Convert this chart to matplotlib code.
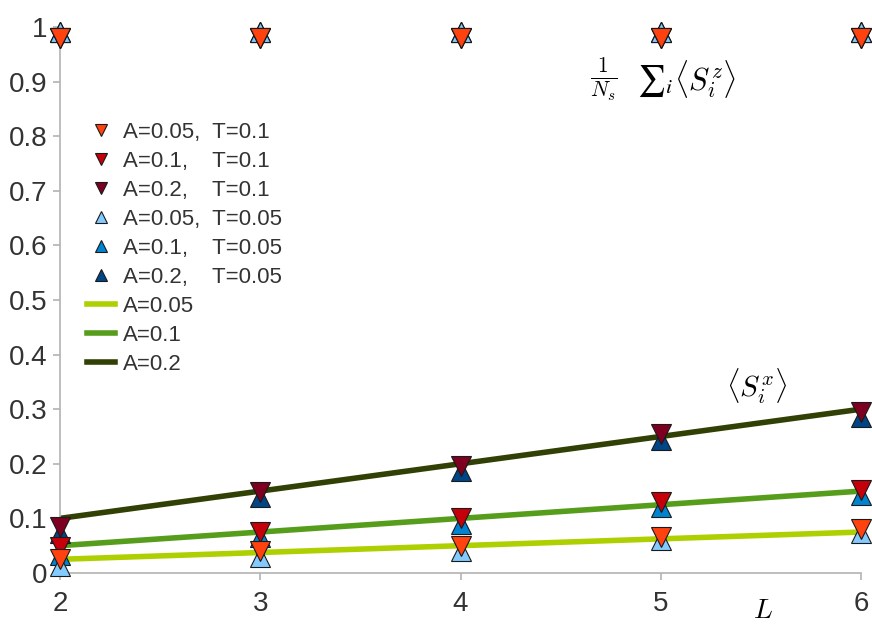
import matplotlib
matplotlib.use('Agg')
import matplotlib.pyplot as plt
import numpy as np

plt.rcParams['font.family'] = ['Liberation Sans', 'DejaVu Sans']
plt.rcParams['mathtext.fontset'] = 'cm'

# system size
L = [2, 3, 4, 5, 6]

# <S^x> at T=0.1 (down triangles)
sx_t01_a005 = [0.025, 0.040, 0.050, 0.066, 0.081]
sx_t01_a01 = [0.048, 0.075, 0.100, 0.130, 0.152]
sx_t01_a02 = [0.085, 0.148, 0.196, 0.255, 0.295]
# <S^x> at T=0.05 (up triangles)
sx_t005_a005 = [0.012, 0.030, 0.040, 0.060, 0.073]
sx_t005_a01 = [0.033, 0.065, 0.090, 0.120, 0.143]
sx_t005_a02 = [0.073, 0.140, 0.187, 0.244, 0.286]
# 1/Ns sum <S^z>
sz_t01 = [0.980, 0.980, 0.980, 0.980, 0.980]
sz_t005 = [0.990, 0.990, 0.990, 0.990, 0.990]
# reference lines
line_a005 = [0.025, 0.0375, 0.050, 0.0625, 0.075]
line_a01 = [0.050, 0.075, 0.100, 0.125, 0.150]
line_a02 = [0.100, 0.150, 0.200, 0.250, 0.300]

fig = plt.figure(figsize=(8.72, 6.26), dpi=100)
ax = fig.add_axes([0.0688, 0.0847, 0.9186, 0.8722])

# lines
l1, = ax.plot(L, line_a005, color='#aecf00', lw=4, label='A=0.05', zorder=2)
l2, = ax.plot(L, line_a01, color='#579d1c', lw=4, label='A=0.1', zorder=2)
l3, = ax.plot(L, line_a02, color='#314004', lw=4, label='A=0.2', zorder=2)

ms = 14
kw = dict(ls='none', ms=ms, mec='#1a1a1a', mew=0.8, clip_on=False)

# up triangles (T=0.05), drawn first
u3, = ax.plot(L, sx_t005_a02, marker='^', color='#004586', label='A=0.2,    T=0.05', zorder=3, **kw)
u2, = ax.plot(L, sx_t005_a01, marker='^', color='#0084d1', label='A=0.1,    T=0.05', zorder=3, **kw)
u1, = ax.plot(L, sx_t005_a005, marker='^', color='#83caff', label='A=0.05,  T=0.05', zorder=3, **kw)
ax.plot(L, sz_t005, marker='^', color='#004586', zorder=3, **kw)
ax.plot(L, sz_t005, marker='^', color='#0084d1', zorder=3, **kw)
ax.plot(L, sz_t005, marker='^', color='#83caff', zorder=3, **kw)

# down triangles (T=0.1)
d3, = ax.plot(L, sx_t01_a02, marker='v', color='#7e0021', label='A=0.2,    T=0.1', zorder=4, **kw)
d2, = ax.plot(L, sx_t01_a01, marker='v', color='#c5000b', label='A=0.1,    T=0.1', zorder=4, **kw)
d1, = ax.plot(L, sx_t01_a005, marker='v', color='#ff420e', label='A=0.05,  T=0.1', zorder=4, **kw)
ax.plot(L, sz_t01, marker='v', color='#7e0021', zorder=4, **kw)
ax.plot(L, sz_t01, marker='v', color='#c5000b', zorder=4, **kw)
ax.plot(L, sz_t01, marker='v', color='#ff420e', zorder=4, **kw)

ax.set_xlim(2, 6)
ax.set_ylim(0, 1)
ax.set_xticks(L)
ax.set_yticks(np.arange(0, 1.01, 0.1))
ax.set_yticklabels(['0', '0.1', '0.2', '0.3', '0.4', '0.5', '0.6', '0.7', '0.8', '0.9', '1'])

for s in ['top', 'right']:
    ax.spines[s].set_visible(False)
for s in ['left', 'bottom']:
    ax.spines[s].set_color('#b3b3b3')
    ax.spines[s].set_linewidth(1.2)
ax.tick_params(colors='#b3b3b3', labelcolor='#333333', labelsize=20, length=5, width=1.2)
ax.tick_params(axis='y', pad=4)
ax.tick_params(axis='x', pad=8)

leg = ax.legend(handles=[d1, d2, d3, u1, u2, u3, l1, l2, l3],
                loc='upper left', bbox_to_anchor=(0.022, 0.842), frameon=False,
                fontsize=16, handlelength=1.3, handletextpad=0.35,
                labelspacing=0.36, borderaxespad=0, markerscale=0.62)
for t in leg.get_texts():
    t.set_color('#333333')

# 1/Ns sum_i <S_i^z>, built from three pieces so the sum stays in text size
ax.text(0.679, 0.905, r'$\frac{1}{N_s}$', transform=ax.transAxes,
        fontsize=22, ha='center', va='center')
ax.text(0.72, 0.9, r'${\sum}_i$', transform=ax.transAxes, math_fontfamily='stix',
        fontsize=22, ha='left', va='center')
ax.text(0.766, 0.905, r'$\langle S_i^z\rangle$', transform=ax.transAxes,
        fontsize=22, ha='left', va='center')
ax.text(0.87, 0.342, r'$\langle S_i^x\rangle$', transform=ax.transAxes,
        fontsize=21, ha='center', va='center')
ax.text(0.877, -0.07, r'$L$', transform=ax.transAxes,
        fontsize=20, ha='center', va='center')

fig.savefig('out.png', dpi=100)
